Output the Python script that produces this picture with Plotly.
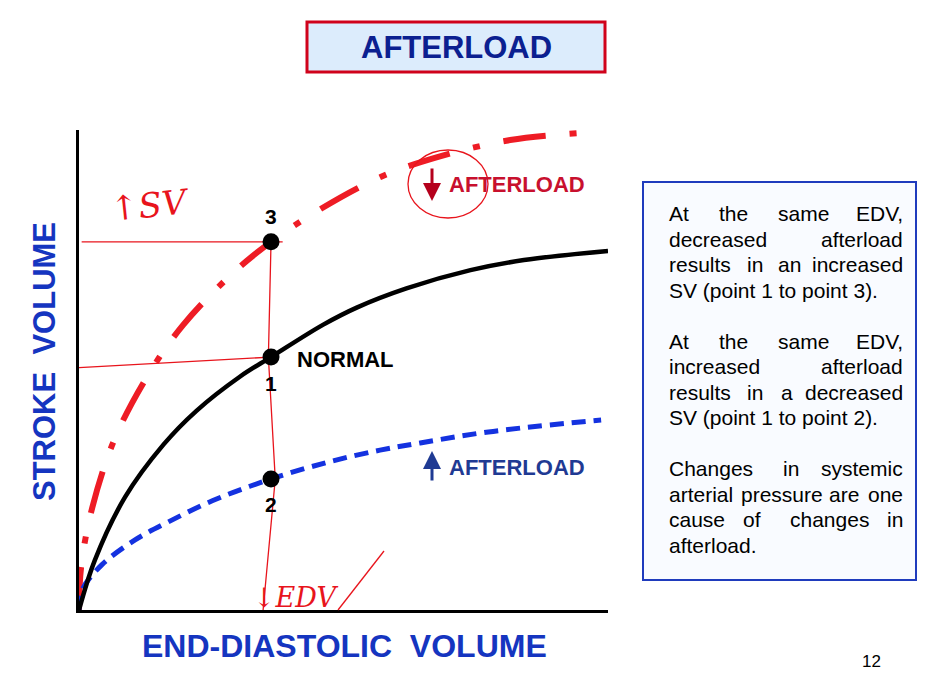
import plotly.graph_objects as go

# ---------------- data (EDV and SV in arbitrary units, 0-10) ----------------
normal_edv = [0, 0.30, 0.87, 1.60, 2.22, 3.04, 3.63, 4.61, 5.25, 6.19, 7.40, 8.41, 10.0]
normal_sv = [0, 1.04, 2.35, 3.45, 4.15, 4.86, 5.27, 5.94, 6.30, 6.70, 7.08, 7.29, 7.48]

low_afterload_edv = [0, 0.04, 0.25, 0.68, 1.32, 1.97, 2.93, 3.63, 4.50, 5.70, 6.79, 8.15, 9.53]
low_afterload_sv = [0, 0.90, 2.13, 3.58, 4.92, 5.94, 7.04, 7.67, 8.31, 9.02, 9.44, 9.79, 9.94]

high_afterload_edv = [0, 0.06, 0.43, 1.06, 1.68, 2.53, 3.63, 4.74, 5.69, 6.45, 7.74, 9.87]
high_afterload_sv = [0, 0.42, 0.94, 1.46, 1.83, 2.28, 2.73, 3.09, 3.33, 3.48, 3.71, 3.96]

point_labels = ["1", "2", "3"]
point_edv = [3.63, 3.63, 3.63]
point_sv = [5.27, 2.73, 7.67]

# ---------------- helpers: page pixel -> paper coords ----------------
OFF = 8                      # default body margin of the html page
L, R, T, B = 79, 608, 130, 610   # plot area, page pixels
W, H = 913, 679


def px(x):
    return (x - L) / (R - L)


def py(y):
    return (B - y) / (B - T)


ARIAL = "Arial, Liberation Sans, Helvetica, sans-serif"
HAND_RED = "#e8141c"

fig = go.Figure()

# hand-drawn guide lines (red, thin)
fig.add_trace(go.Scatter(x=[0.05, point_edv[2] + 0.22], y=[point_sv[2], point_sv[2]],
                         mode="lines", line=dict(color=HAND_RED, width=1.3), hoverinfo="skip"))
fig.add_trace(go.Scatter(x=[0.0, point_edv[0]], y=[point_sv[0] - 0.22, point_sv[0]],
                         mode="lines", line=dict(color=HAND_RED, width=1.3), hoverinfo="skip"))
fig.add_trace(go.Scatter(x=[point_edv[2], point_edv[0] - 0.05, point_edv[1] + 0.08, point_edv[1] - 0.15],
                         y=[point_sv[2], point_sv[0], point_sv[1], 0],
                         mode="lines", line=dict(color=HAND_RED, width=1.3), hoverinfo="skip"))

# curves
fig.add_trace(go.Scatter(x=low_afterload_edv, y=low_afterload_sv, mode="lines",
                         line=dict(color="#ee1c25", width=6, dash="43px,24px,7px,24px",
                                   shape="spline", smoothing=1.0),
                         hoverinfo="skip", name="decreased afterload"))
fig.add_trace(go.Scatter(x=high_afterload_edv, y=high_afterload_sv, mode="lines",
                         line=dict(color="#1432e0", width=5, dash="14px,8px",
                                   shape="spline", smoothing=1.0),
                         hoverinfo="skip", name="increased afterload"))
fig.add_trace(go.Scatter(x=normal_edv, y=normal_sv, mode="lines",
                         line=dict(color="black", width=4.5, shape="spline", smoothing=1.0),
                         hoverinfo="skip", name="normal"))

# points
fig.add_trace(go.Scatter(x=point_edv, y=point_sv, mode="markers",
                         marker=dict(color="black", size=17), hoverinfo="skip"))

annotations = []


def note(x, y, text, size, color, xanchor="center", family=ARIAL, **kw):
    d = dict(xref="paper", yref="paper", x=x, y=y, text=text, showarrow=False,
             xanchor=xanchor, yanchor="middle", font=dict(family=family, size=size, color=color))
    d.update(kw)
    annotations.append(d)


# point numbers
shifts = {"1": -26, "2": -26, "3": 25}
for lab, xe, ys in zip(point_labels, point_edv, point_sv):
    annotations.append(dict(x=xe, y=ys, text=f"<b>{lab}</b>", showarrow=False,
                            xanchor="center", yanchor="middle",
                            yshift=shifts[lab], font=dict(family=ARIAL, size=21, color="black")))
annotations.append(dict(x=point_edv[0], y=point_sv[0], text="<b>NORMAL</b>", showarrow=False,
                        xanchor="left", yanchor="middle", xshift=24, yshift=-2,
                        font=dict(family=ARIAL, size=22, color="black")))

# curve labels with arrows
note(px(447), py(184), "<b>AFTERLOAD</b>", 22, "#c8102e", xanchor="left")
annotations.append(dict(xref="paper", yref="paper", x=px(432), y=py(201), ax=0, ay=-34, text="",
                        showarrow=True, arrowhead=2, arrowsize=1.2, arrowwidth=3, arrowcolor="#b5001c"))
note(px(447), py(467), "<b>AFTERLOAD</b>", 22, "#1f3a93", xanchor="left")
annotations.append(dict(xref="paper", yref="paper", x=px(432), y=py(451), ax=0, ay=31, text="",
                        showarrow=True, arrowhead=2, arrowsize=1.2, arrowwidth=3, arrowcolor="#1f3a93"))

# axis titles
note(px(344), py(646), "<b>END-DIASTOLIC  VOLUME</b>", 32, "#1535c0")
note(px(44), py(362), "<b>STROKE  VOLUME</b>", 31, "#1535c0", textangle=-90)

# slide title
note(px(456), py(47), "<b>AFTERLOAD</b>", 31, "#0b2090")

# explanatory text (justified by word placement)
text_lines = [
    (213, [("At", 667, "left"), ("the", 717, "left"), ("same", 776, "left"), ("EDV,", 905, "right")]),
    (239, [("decreased", 667, "left"), ("afterload", 905, "right")]),
    (264, [("results", 667, "left"), ("in", 745, "left"), ("an", 776, "left"), ("increased", 905, "right")]),
    (290, [("SV (point 1 to point 3).", 667, "left")]),
    (341, [("At", 667, "left"), ("the", 717, "left"), ("same", 776, "left"), ("EDV,", 905, "right")]),
    (366, [("increased", 667, "left"), ("afterload", 905, "right")]),
    (392, [("results", 667, "left"), ("in", 745, "left"), ("a", 779, "left"), ("decreased", 905, "right")]),
    (417, [("SV (point 1 to point 2).", 667, "left")]),
    (468, [("Changes", 667, "left"), ("in", 781, "left"), ("systemic", 905, "right")]),
    (494, [("arterial", 667, "left"), ("pressure", 739, "left"), ("are", 827, "left"), ("one", 905, "right")]),
    (519, [("cause", 667, "left"), ("of", 741, "left"), ("changes", 788, "left"), ("in", 905, "right")]),
    (545, [("afterload.", 667, "left")]),
]
for yline, words in text_lines:
    for word, xw, anch in words:
        note(px(xw), py(yline), word, 21, "black", xanchor=anch)

# handwriting
note(px(150), py(205), "↑SV", 34, HAND_RED, family="DejaVu Serif", textangle=-6)
annotations[-1]["font"]["style"] = "italic"
note(px(296), py(597), "↓EDV", 27, HAND_RED, family="DejaVu Serif")
annotations[-1]["font"]["style"] = "italic"

# page number
note(px(871), py(661), "12", 17, "black")

shapes = [
    # title box
    dict(type="rect", xref="paper", yref="paper", x0=px(307), x1=px(605), y0=py(72), y1=py(22),
         fillcolor="#dcecfc", line=dict(color="#d0021b", width=3), layer="below"),
    # text box
    dict(type="rect", xref="paper", yref="paper", x0=px(643), x1=px(916), y0=py(580), y1=py(182),
         fillcolor="#f9fbff", line=dict(color="#1f3bbd", width=2), layer="below"),
    # hand-drawn circle around the down arrow
    dict(type="circle", xref="paper", yref="paper", x0=px(408), x1=px(488), y0=py(218), y1=py(150),
         line=dict(color=HAND_RED, width=1.3)),
    # tail of the hand-drawn check after EDV
    dict(type="line", xref="paper", yref="paper", x0=px(338), y0=py(610), x1=px(384), y1=py(551),
         line=dict(color=HAND_RED, width=1.3)),
]

fig.update_layout(
    width=W, height=H,
    margin=dict(l=L - OFF, r=W - (R - OFF), t=T - OFF, b=H - (B - OFF)),
    paper_bgcolor="white", plot_bgcolor="white",
    showlegend=False,
    xaxis=dict(range=[0, 10], showline=True, linewidth=3, linecolor="black", showgrid=False,
               zeroline=False, showticklabels=False, ticks="", fixedrange=True),
    yaxis=dict(range=[0, 10], showline=True, linewidth=3, linecolor="black", showgrid=False,
               zeroline=False, showticklabels=False, ticks="", fixedrange=True),
    annotations=annotations,
    shapes=shapes,
)

fig.write_html("out.html", config={"displayModeBar": False})
